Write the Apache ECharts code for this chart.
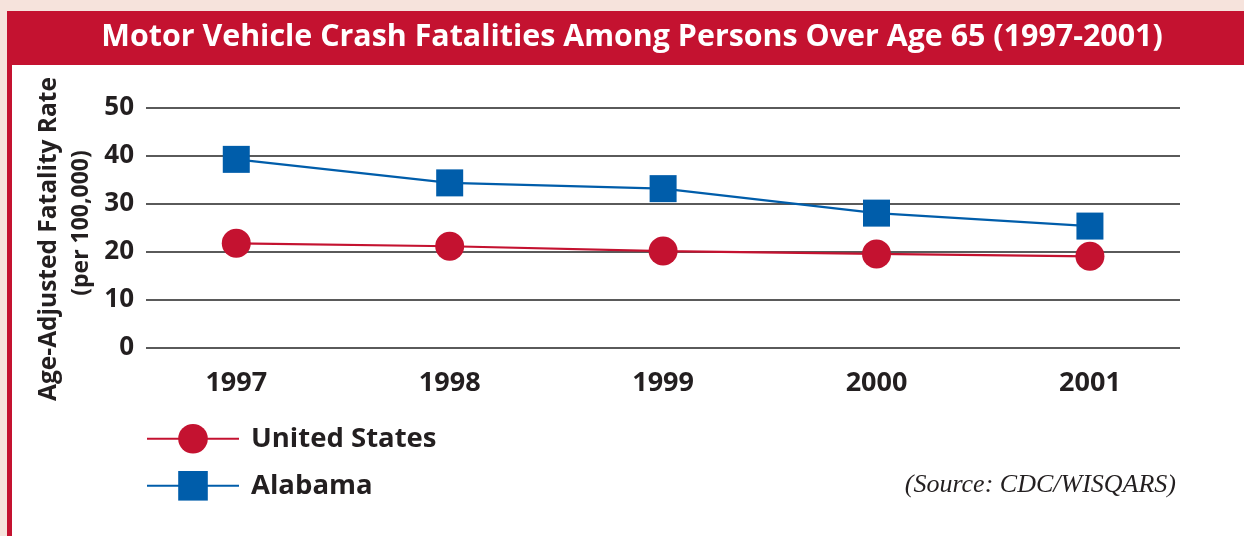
<!DOCTYPE html>
<html lang="en">
<head>
<meta charset="utf-8">
<title>Motor Vehicle Crash Fatalities Among Persons Over Age 65</title>
<style>
  html, body { margin: 0; padding: 0; background: #f6e3dc; }
  #main { width: 1244px; height: 536px; }
</style>
</head>
<body>
<div id="main"></div>
<script src="https://cdn.jsdelivr.net/npm/echarts@6/dist/echarts.min.js"></script>
<script>
// data
var years = [1997, 1998, 1999, 2000, 2001];
var unitedStates = [21.8, 21.2, 20.2, 19.6, 19.1];
var alabama = [39.3, 34.4, 33.2, 28.1, 25.4];
var yTicks = [0, 10, 20, 30, 40, 50];
var seriesNames = ['United States', 'Alabama'];

var RED = '#c41230';
var BLUE = '#005daa';
var INK = '#231f20';

function pairs(vals) {
    return years.map(function (y, i) { return [y, vals[i]]; });
}

// one legend box per entry so the row spacing matches the print
function legendBox(name, top) {
    return {
        orient: 'vertical',
        left: 141,
        top: top,
        itemWidth: 92,
        itemHeight: 37,
        textStyle: {
            color: INK,
            fontFamily: 'Open Sans',
            fontWeight: 'bold',
            fontSize: 27.5,
            padding: [0, 0, 0, 7]
        },
        data: [name]
    };
}

var chart = echarts.init(document.getElementById('main'));

var option = {
    backgroundColor: '#f6e3dc',
    animation: false,
    title: {
        text: 'Motor Vehicle Crash Fatalities Among Persons Over Age 65 (1997-2001)',
        left: 627,
        top: 17,
        textAlign: 'center',
        textStyle: {
            color: '#ffffff',
            fontFamily: 'Open Sans',
            fontWeight: 'bold',
            fontSize: 30.4
        }
    },
    graphic: [
        { type: 'rect', z: -10, shape: { x: 7, y: 11, width: 1300, height: 600 }, style: { fill: RED } },
        { type: 'rect', z: -9, shape: { x: 12, y: 65, width: 1300, height: 600 }, style: { fill: '#ffffff' } },
        {
            type: 'text', z: 100, x: 49, y: 239, rotation: Math.PI / 2,
            style: {
                text: 'Age-Adjusted Fatality Rate', fill: INK,
                font: 'bold 24.5px "Open Sans"', align: 'center', verticalAlign: 'middle'
            }
        },
        {
            type: 'text', z: 100, x: 81, y: 223, rotation: Math.PI / 2,
            style: {
                text: '(per 100,000)', fill: INK,
                font: 'bold 23px "Open Sans"', align: 'center', verticalAlign: 'middle'
            }
        },
        {
            type: 'text', z: 100, x: 1176, y: 485,
            style: {
                text: '(Source: CDC/WISQARS)', fill: INK,
                font: 'italic 26px "Liberation Serif"', align: 'right', verticalAlign: 'middle'
            }
        }
    ],
    grid: { left: 146, right: 64, top: 108, bottom: 188 },
    legend: [legendBox(seriesNames[0], 419), legendBox(seriesNames[1], 466)],
    xAxis: {
        type: 'value',
        min: 1996.577,
        max: 2001.422,
        axisLine: { show: false },
        axisTick: { show: false },
        splitLine: { show: false },
        axisLabel: {
            customValues: years,
            margin: 22,
            color: INK,
            fontFamily: 'Open Sans',
            fontWeight: 'bold',
            fontSize: 27,
            formatter: function (v) { return String(v); }
        }
    },
    yAxis: {
        type: 'value',
        min: yTicks[0],
        max: yTicks[yTicks.length - 1],
        interval: 10,
        axisLine: { show: false },
        axisTick: { show: false },
        splitLine: { lineStyle: { color: '#5a5a5a', width: 2 } },
        axisLabel: {
            margin: 12,
            color: INK,
            fontFamily: 'Open Sans',
            fontWeight: 'bold',
            fontSize: 26
        }
    },
    series: [
        {
            name: seriesNames[0],
            type: 'line',
            data: pairs(unitedStates),
            symbol: 'circle',
            symbolSize: 29,
            color: RED,
            itemStyle: { color: RED },
            lineStyle: { color: RED, width: 2.2 }
        },
        {
            name: seriesNames[1],
            type: 'line',
            data: pairs(alabama),
            symbol: 'rect',
            symbolSize: 27,
            color: BLUE,
            itemStyle: { color: BLUE },
            lineStyle: { color: BLUE, width: 2.2 }
        }
    ]
};

chart.setOption(option);
</script>
</body>
</html>
